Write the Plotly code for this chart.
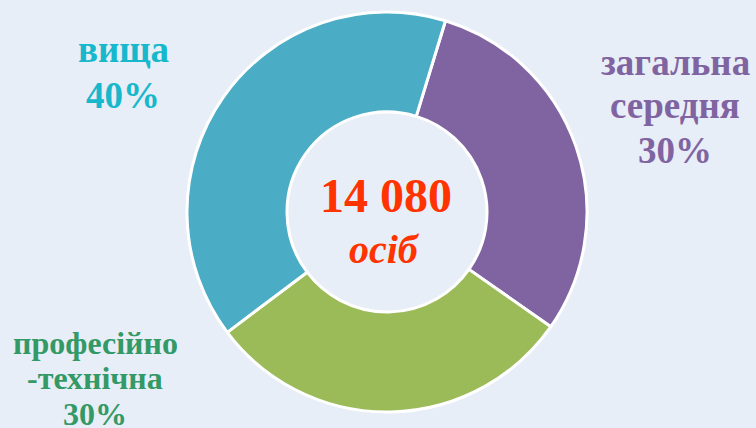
import plotly.graph_objects as go

categories = ["загальна<br>середня", "професійно<br>-технічна", "вища"]
shares = [30, 30, 40]
colors = ["#8064A2", "#9BBB59", "#4BACC6"]
label_colors = ["#8064A2", "#339966", "#17B8CC"]
total_text = "14 080"
unit_text = "осіб"

W, H = 756, 428
BG = "#E8EEF7"
SERIF = "Liberation Serif"

fig = go.Figure(go.Pie(
    labels=categories,
    values=shares,
    hole=0.5,
    sort=False,
    direction="clockwise",
    rotation=17,
    marker=dict(colors=colors, line=dict(color="white", width=3)),
    textinfo="none",
    hoverinfo="label+percent",
    showlegend=False,
    domain=dict(x=[187 / W, 587 / W], y=[16 / H, 416 / H]),
))

def px(x, y):
    return x / W, 1 - y / H

# label block placement: (centre x, list of line centre y, font size) in pixels
label_layout = [
    (675, [63, 106, 150], 37),
    (95, [343, 378, 414], 32),
    (123, [50, 95], 37),
]
for cat, val, col, (lx, ys, fs) in zip(categories, shares, label_colors, label_layout):
    lines = cat.split("<br>") + [f"{val}%"]
    for line, ly in zip(lines, ys):
        xx, yy = px(lx, ly)
        fig.add_annotation(
            x=xx, y=yy, xref="paper", yref="paper",
            text=f"<b>{line}</b>", showarrow=False,
            xanchor="center", yanchor="middle", align="center",
            font=dict(family=SERIF, size=fs, color=col),
        )

cx, cy = px(386, 196)
fig.add_annotation(x=cx, y=cy, xref="paper", yref="paper", text=f"<b>{total_text}</b>",
                   showarrow=False, xanchor="center", yanchor="middle",
                   font=dict(family=SERIF, size=48, color="#FF3300"))
cx, cy = px(384, 249)
fig.add_annotation(x=cx, y=cy, xref="paper", yref="paper", text=f"<b><i>{unit_text}</i></b>",
                   showarrow=False, xanchor="center", yanchor="middle",
                   font=dict(family=SERIF, size=40, color="#FF3300"))

fig.update_layout(
    width=W, height=H,
    margin=dict(l=0, r=0, t=0, b=0),
    paper_bgcolor=BG, plot_bgcolor=BG,
)

fig.write_html("out.html", config={"displayModeBar": False},
               post_script="document.body.style.margin='0';document.body.style.overflow='hidden';")
